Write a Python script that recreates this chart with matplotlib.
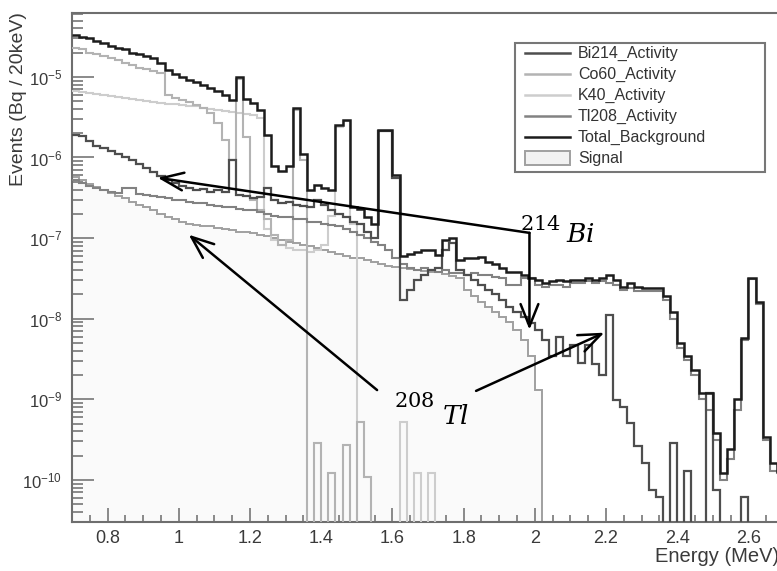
import numpy as np
import matplotlib
matplotlib.use("Agg")
import matplotlib.pyplot as plt
from matplotlib.lines import Line2D
from matplotlib.patches import Rectangle
from matplotlib.ticker import FixedLocator, FixedFormatter, MultipleLocator, LogLocator

plt.rcParams["font.family"] = ["Liberation Sans", "DejaVu Sans"]

# 20 keV bins from 0.70 MeV to 2.70 MeV
E_MIN, BIN_WIDTH, N_BINS = 0.70, 0.02, 100

total_background = [
    3.3e-5, 3.1e-5, 3.0e-5, 2.8e-5, 2.6e-5, 2.4e-5, 2.3e-5, 2.2e-5, 2.0e-5, 1.9e-5,
    1.8e-5, 1.7e-5, 1.5e-5, 1.2e-5, 1.1e-5, 1.0e-5, 9.2e-6, 8.7e-6, 8.0e-6, 7.3e-6,
    6.7e-6, 6.0e-6, 5.2e-6, 1.0e-5, 5.3e-6, 4.8e-6, 3.9e-6, 1.9e-6, 7.9e-7, 6.8e-7,
    7.9e-7, 4.1e-6, 1.1e-6, 4.0e-7, 4.6e-7, 4.2e-7, 4.0e-7, 2.5e-6, 2.9e-6, 2.4e-7,
    2.3e-7, 1.8e-7, 1.5e-7, 2.2e-6, 2.2e-6, 6.1e-7, 6.0e-8, 6.4e-8, 6.7e-8, 7.1e-8,
    7.1e-8, 6.2e-8, 9.5e-8, 1.0e-7, 5.4e-8, 5.7e-8, 5.7e-8, 5.9e-8, 5.1e-8, 4.7e-8,
    4.3e-8, 3.8e-8, 3.8e-8, 3.5e-8, 3.2e-8, 3.0e-8, 2.8e-8, 2.9e-8, 3.0e-8, 2.9e-8,
    3.0e-8, 3.0e-8, 3.2e-8, 3.0e-8, 3.2e-8, 3.5e-8, 3.0e-8, 2.5e-8, 2.8e-8, 2.5e-8,
    2.4e-8, 2.4e-8, 2.4e-8, 1.9e-8, 1.2e-8, 5.0e-9, 3.4e-9, 2.3e-9, 1.2e-9, 1.2e-9,
    3.8e-10, 1.2e-10, 2.4e-10, 1.0e-9, 5.8e-9, 3.2e-8, 1.6e-8, 3.4e-10, 1.6e-10, 1.3e-10,
]

bi214_activity = [
    1.9e-6, 1.85e-6, 1.6e-6, 1.4e-6, 1.3e-6, 1.2e-6, 1.1e-6, 1.0e-6, 9.3e-7, 8.3e-7,
    7.4e-7, 6.6e-7, 5.9e-7, 5.3e-7, 4.8e-7, 4.4e-7, 4.2e-7, 4.0e-7, 4.1e-7, 3.7e-7,
    4.0e-7, 3.7e-7, 9.3e-7, 3.4e-7, 3.3e-7, 3.1e-7, 3.2e-7, 4.2e-7, 3.0e-7, 2.7e-7,
    2.8e-7, 2.6e-7, 2.5e-7, 2.4e-7, 3.0e-7, 2.6e-7, 2.2e-7, 2.0e-7, 1.8e-7, 1.6e-7,
    1.5e-7, 1.2e-7, 1.0e-7, 2.1e-6, 2.1e-6, 5.6e-7, 1.7e-8, 2.3e-8, 3.0e-8, 3.5e-8,
    4.0e-8, 4.3e-8, 7.1e-8, 8.7e-8, 4.0e-8, 3.5e-8, 3.0e-8, 2.6e-8, 2.3e-8, 2.0e-8,
    1.7e-8, 1.4e-8, 1.2e-8, 1.05e-8, 8.9e-9, 7.3e-9, 5.5e-9, 3.4e-9, 6.0e-9, 3.4e-9,
    4.7e-9, 2.8e-9, 4.7e-9, 2.7e-9, 2.0e-9, 1.1e-8, 9.8e-10, 8.0e-10, 5.1e-10, 2.6e-10,
    1.6e-10, 7.5e-11, 6.2e-11, 0, 2.9e-10, 0, 1.3e-10, 0, 0, 1.2e-9,
    7.5e-11, 0, 0, 0, 6.2e-11, 0, 0, 0, 0, 0,
]

co60_activity = [
    2.3e-5, 2.2e-5, 2.0e-5, 1.9e-5, 1.8e-5, 1.7e-5, 1.6e-5, 1.5e-5, 1.4e-5, 1.3e-5,
    1.26e-5, 1.19e-5, 1.12e-5, 6.0e-6, 5.5e-6, 5.2e-6, 4.9e-6, 4.5e-6, 4.1e-6, 3.6e-6,
    2.7e-6, 1.65e-6, 9.3e-7, 9.4e-6, 1.8e-6, 3.0e-7, 2.2e-7, 1.7e-7, 1.1e-7, 8.2e-8,
    9.5e-8, 3.9e-6, 9.3e-7, 0, 2.9e-10, 0, 1.2e-10, 0, 2.7e-10, 0,
    5.2e-10, 1.1e-10, 0, 0, 0, 0, 0, 0, 0, 0,
    0, 0, 0, 0, 0, 0, 0, 0, 0, 0,
    0, 0, 0, 0, 0, 0, 0, 0, 0, 0,
    0, 0, 0, 0, 0, 0, 0, 0, 0, 0,
    0, 0, 0, 0, 0, 0, 0, 0, 0, 0,
    0, 0, 0, 0, 0, 0, 0, 0, 0, 0,
]

k40_activity = [
    6.7e-6, 6.5e-6, 6.3e-6, 6.2e-6, 6.0e-6, 5.8e-6, 5.7e-6, 5.5e-6, 5.3e-6, 5.2e-6,
    5.0e-6, 4.9e-6, 4.8e-6, 4.6e-6, 4.6e-6, 4.5e-6, 4.4e-6, 4.3e-6, 4.1e-6, 4.0e-6,
    3.9e-6, 3.8e-6, 3.7e-6, 3.6e-6, 3.5e-6, 3.4e-6, 3.1e-6, 1.3e-7, 9.5e-8, 8.2e-8,
    7.6e-8, 7.1e-8, 7.1e-8, 6.7e-8, 7.1e-8, 8.2e-8, 1.9e-7, 2.4e-6, 2.85e-6, 1.5e-7,
    0, 0, 0, 0, 0, 0, 5.2e-10, 0, 1.2e-10, 0,
    1.2e-10, 0, 0, 0, 0, 0, 0, 0, 0, 0,
    0, 0, 0, 0, 0, 0, 0, 0, 0, 0,
    0, 0, 0, 0, 0, 0, 0, 0, 0, 0,
    0, 0, 0, 0, 0, 0, 0, 0, 0, 0,
    0, 0, 0, 0, 0, 0, 0, 0, 0, 0,
]

tl208_activity = [
    5.3e-7, 4.8e-7, 4.4e-7, 4.2e-7, 4.0e-7, 3.7e-7, 3.6e-7, 4.2e-7, 4.2e-7, 3.5e-7,
    3.4e-7, 3.3e-7, 3.2e-7, 3.1e-7, 3.0e-7, 3.0e-7, 2.8e-7, 2.7e-7, 2.7e-7, 2.6e-7,
    2.5e-7, 2.4e-7, 2.4e-7, 2.3e-7, 2.2e-7, 2.2e-7, 2.1e-7, 2.0e-7, 1.9e-7, 1.85e-7,
    1.8e-7, 1.7e-7, 1.7e-7, 1.6e-7, 1.6e-7, 1.5e-7, 1.45e-7, 1.4e-7, 1.3e-7, 1.2e-7,
    1.1e-7, 1.0e-7, 9.0e-8, 8.2e-8, 7.1e-8, 5.7e-8, 4.7e-8, 4.3e-8, 4.0e-8, 4.3e-8,
    4.0e-8, 3.8e-8, 4.0e-8, 3.7e-8, 3.7e-8, 3.5e-8, 3.7e-8, 3.5e-8, 3.5e-8, 3.3e-8,
    3.2e-8, 2.6e-8, 2.6e-8, 3.2e-8, 3.2e-8, 2.6e-8, 2.5e-8, 2.6e-8, 2.6e-8, 2.5e-8,
    2.8e-8, 2.8e-8, 2.9e-8, 2.8e-8, 2.9e-8, 2.8e-8, 2.6e-8, 2.3e-8, 2.4e-8, 2.2e-8,
    2.2e-8, 2.2e-8, 2.2e-8, 1.7e-8, 1.0e-8, 4.3e-9, 3.1e-9, 2.0e-9, 1.0e-9, 7.4e-10,
    3.1e-10, 1.0e-10, 1.8e-10, 7.4e-10, 5.5e-9, 3.1e-8, 1.5e-8, 3.1e-10, 1.3e-10, 1.2e-10,
]

signal = [
    5.7e-7, 5.3e-7, 4.7e-7, 4.3e-7, 4.0e-7, 3.6e-7, 3.3e-7, 3.1e-7, 2.8e-7, 2.6e-7,
    2.4e-7, 2.2e-7, 2.0e-7, 1.8e-7, 1.7e-7, 1.6e-7, 1.5e-7, 1.45e-7, 1.4e-7, 1.4e-7,
    1.35e-7, 1.3e-7, 1.25e-7, 1.2e-7, 1.2e-7, 1.15e-7, 1.1e-7, 1.06e-7, 1.0e-7, 9.5e-8,
    9.0e-8, 8.7e-8, 8.2e-8, 8.0e-8, 7.6e-8, 7.1e-8, 6.7e-8, 6.4e-8, 6.0e-8, 5.7e-8,
    5.7e-8, 5.4e-8, 5.1e-8, 4.8e-8, 4.5e-8, 4.4e-8, 4.3e-8, 4.15e-8, 4.0e-8, 3.9e-8,
    3.8e-8, 3.8e-8, 3.6e-8, 3.4e-8, 3.2e-8, 2.3e-8, 1.9e-8, 1.6e-8, 1.4e-8, 1.2e-8,
    1.05e-8, 9.1e-9, 7.3e-9, 5.5e-9, 3.4e-9, 1.3e-9, 0, 0, 0, 0,
    0, 0, 0, 0, 0, 0, 0, 0, 0, 0,
    0, 0, 0, 0, 0, 0, 0, 0, 0, 0,
    0, 0, 0, 0, 0, 0, 0, 0, 0, 0,
]

x_ticks = [0.8, 1.0, 1.2, 1.4, 1.6, 1.8, 2.0, 2.2, 2.4, 2.6]
x_tick_labels = ["0.8", "1", "1.2", "1.4", "1.6", "1.8", "2", "2.2", "2.4", "2.6"]

legend_labels = ["Bi214_Activity", "Co60_Activity", "K40_Activity", "Tl208_Activity",
                 "Total_Background", "Signal"]
legend_colors = ["#4e4e4e", "#b3b3b3", "#cdcdcd", "#828282", "#1c1c1c", "#a0a0a0"]

Y_MIN, Y_MAX = 3.0e-11, 6.2e-5
W, H = 777, 571
edges = E_MIN + BIN_WIDTH * np.arange(N_BINS + 1)


def fig_xy(px, py):
    # pixel position (from top-left) to figure fraction
    return px / W, 1 - py / H


fig = plt.figure(figsize=(W / 100, H / 100), dpi=100)
fig.patch.set_facecolor("white")
ax = fig.add_axes([72 / W, 49 / H, 712 / W, 509 / H])
ax.set_yscale("log", nonpositive="clip")
ax.set_xlim(E_MIN, E_MIN + BIN_WIDTH * N_BINS)
ax.set_ylim(Y_MIN, Y_MAX)

# histograms, lightest first so the total sits on top
ax.stairs(signal, edges, baseline=Y_MIN, fill=True, facecolor="#fafafa",
          edgecolor="none", zorder=1)
ax.stairs(signal, edges, baseline=None, color="#a0a0a0", lw=1.4, zorder=2)
series = [
    (k40_activity, "#cdcdcd", 1.5),
    (co60_activity, "#b3b3b3", 1.5),
    (tl208_activity, "#828282", 1.5),
    (bi214_activity, "#4e4e4e", 1.6),
    (total_background, "#1c1c1c", 1.8),
]
for values, color, lw in series:
    ax.stairs(values, edges, baseline=None, color=color, lw=lw, zorder=3)

# ROOT-like frame and ticks
for side in ["left", "bottom", "top", "right"]:
    ax.spines[side].set_color("#6e6e6e")
    ax.spines[side].set_linewidth(1.5)
ax.xaxis.set_major_locator(FixedLocator(x_ticks))
ax.xaxis.set_major_formatter(FixedFormatter(x_tick_labels))
ax.xaxis.set_minor_locator(MultipleLocator(0.05))
ax.yaxis.set_major_locator(LogLocator(base=10, numticks=20))
ax.yaxis.set_minor_locator(LogLocator(base=10, subs=np.arange(2, 10), numticks=20))
ax.tick_params(axis="both", which="both", direction="in", color="#777777",
               width=1.2, labelcolor="#3a3a3a")
ax.tick_params(axis="y", which="major", length=16, pad=7, labelsize=12)
ax.tick_params(axis="y", which="minor", length=8)
ax.tick_params(axis="x", which="major", length=10, pad=6, labelsize=13)
ax.tick_params(axis="x", which="minor", length=5)

fig.text(*fig_xy(19, 12), "Events (Bq / 20keV)", rotation=90,
         ha="center", va="top", fontsize=14, color="#3a3a3a")
fig.text(*fig_xy(655, 557), "Energy (MeV)", ha="left", va="center",
         fontsize=14.5, color="#3a3a3a")

# legend box drawn ROOT style with a fixed frame
x0, y0 = fig_xy(515, 172)
x1, y1 = fig_xy(765, 43)
fig.patches.append(Rectangle((x0, y0), x1 - x0, y1 - y0, transform=fig.transFigure,
                             facecolor="white", edgecolor="#777777", lw=1.5, zorder=5))
for i, (label, color) in enumerate(zip(legend_labels, legend_colors)):
    row_y = 53 + 21 * i
    if label == "Signal":
        sx, sy = fig_xy(525, row_y + 7)
        ex, ey = fig_xy(570, row_y - 7)
        fig.patches.append(Rectangle((sx, sy), ex - sx, ey - sy, transform=fig.transFigure,
                                     facecolor="#f2f2f2", edgecolor=color, lw=1.4, zorder=6))
    else:
        lx0, ly = fig_xy(525, row_y)
        lx1, _ = fig_xy(570, row_y)
        fig.lines.append(Line2D([lx0, lx1], [ly, ly], transform=fig.transFigure,
                                color=color, lw=1.8, zorder=6))
    fig.text(*fig_xy(578, row_y), label, ha="left", va="center", fontsize=11.5,
             color="#333333", zorder=6)

# isotope callouts
arrow = dict(arrowstyle="->, head_length=0.8, head_width=0.32", lw=1.8,
             color="black", shrinkA=0, shrinkB=0, mutation_scale=20)
bi_corner = (1.985, 1.16e-7)
ax.annotate("", xy=(0.941, 5.6e-7), xytext=bi_corner, arrowprops=arrow, zorder=5)
ax.annotate("", xy=(1.985, 7.3e-9), xytext=bi_corner, arrowprops=arrow, zorder=5)
ax.annotate("", xy=(1.028, 1.1e-7), xytext=(1.557, 1.3e-9), arrowprops=arrow, zorder=5)
ax.annotate("", xy=(2.195, 6.7e-9), xytext=(1.835, 1.27e-9), arrowprops=arrow, zorder=5)

label_style = dict(ha="center", va="center", math_fontfamily="dejavuserif", zorder=6)
ax.text(2.015, 1.46e-7, r"$\mathrm{214}$", fontsize=15, **label_style)
ax.text(2.128, 1.1e-7, r"$Bi$", fontsize=19, **label_style)
ax.text(1.661, 9.5e-10, r"$\mathrm{208}$", fontsize=15, **label_style)
ax.text(1.776, 6.0e-10, r"$Tl$", fontsize=19, **label_style)

fig.savefig("out.png", dpi=100)
